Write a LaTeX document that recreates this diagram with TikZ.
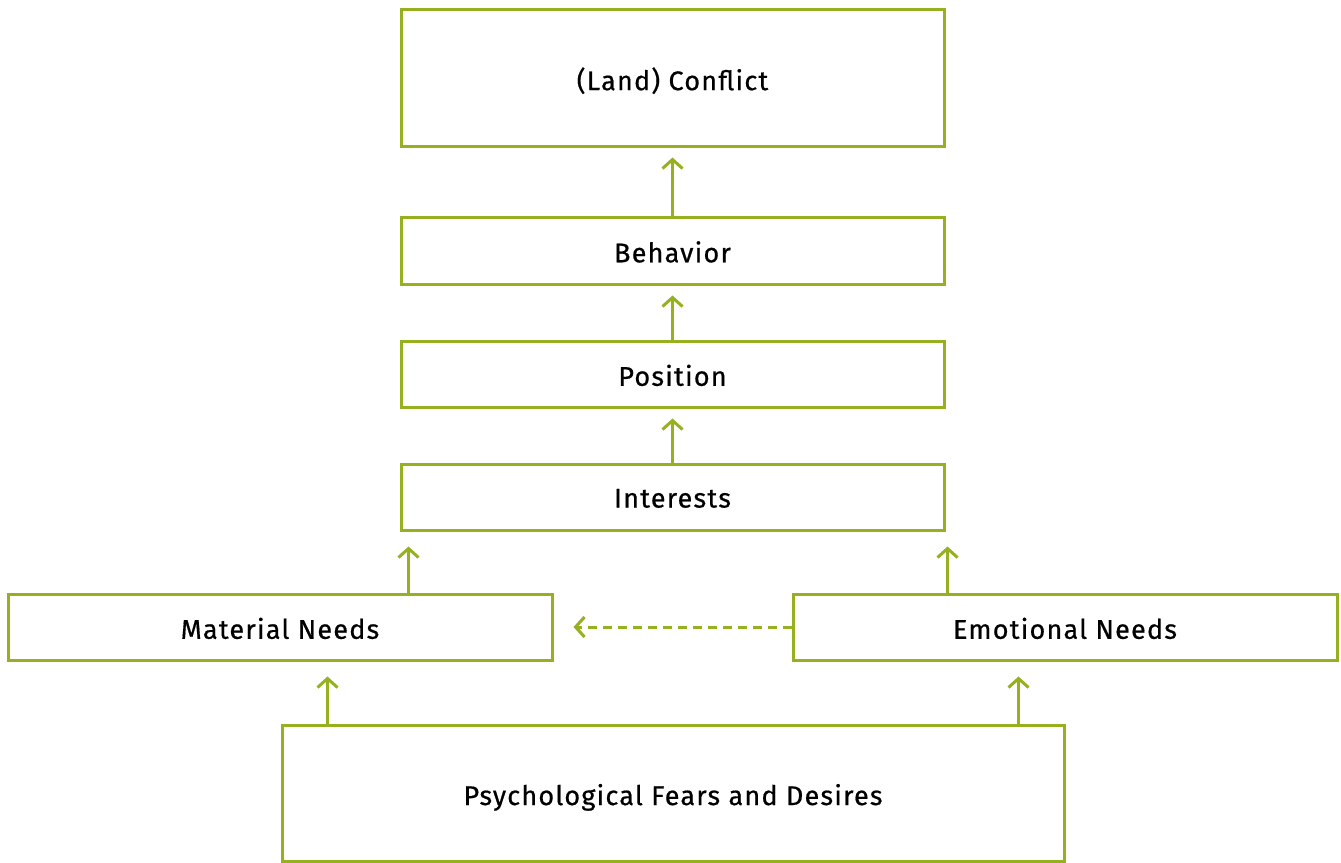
\documentclass[tikz,border=0pt]{standalone}
\usepackage{fontspec}
\setmainfont{Fira Sans}[LetterSpace=4.5, FakeBold=0.6]
\usetikzlibrary{arrows.meta}
\definecolor{leaf}{RGB}{149,177,31}
% labels sit a little below the geometric centre of their boxes
\newcommand{\boxlabel}[1]{\lower2.5pt\hbox{#1}}
\tikzset{
  box/.style={draw=leaf, line width=3pt, rectangle, inner sep=0pt,
    font=\fontsize{27}{30}\selectfont, text=black, text depth=0pt},
  arr/.style={draw=leaf, line width=3pt,
    -{Straight Barb[length=9pt,width=20pt,line width=3pt]}},
}
\begin{document}
\begin{tikzpicture}[x=1pt,y=-1pt]
  \useasboundingbox (0,0) rectangle (1341,862);
  \node[box, minimum width=543, minimum height=137] (conflict) at (672.5,77.5) {\boxlabel{(Land) Conflict}};
  \node[box, minimum width=543, minimum height=67] (behavior) at (672.5,250.5) {\boxlabel{Behavior}};
  \node[box, minimum width=543, minimum height=66] (position) at (672.5,374) {\boxlabel{Position}};
  \node[box, minimum width=543, minimum height=66] (interests) at (672.5,497) {\boxlabel{Interests}};
  \node[box, minimum width=544, minimum height=66] (material) at (280,627) {\boxlabel{Material Needs}};
  \node[box, minimum width=544, minimum height=66] (emotional) at (1065,627) {\boxlabel{Emotional Needs}};
  \node[box, minimum width=782, minimum height=136.5] (psych) at (673,793.25) {\boxlabel{Psychological Fears and Desires}};

  \draw[arr, shorten >=10pt] (behavior.north) -- (conflict.south);
  \draw[arr, shorten >=10pt] (position.north) -- (behavior.south);
  \draw[arr, shorten >=10pt] (interests.north) -- (position.south);
  \draw[arr, shorten >=15pt] ([xshift=9]interests.south west |- material.north) -- ([xshift=9]interests.south west);
  \draw[arr, shorten >=15pt] ([xshift=2]interests.south east |- emotional.north) -- ([xshift=2]interests.south east);
  \draw[arr, shorten >=15pt] ([xshift=47]psych.north west) -- ([xshift=47]psych.north west |- material.south);
  \draw[arr, shorten >=15pt] ([xshift=-47]psych.north east) -- ([xshift=-47]psych.north east |- emotional.south);
  \draw[arr, dash pattern=on 9pt off 6pt, shorten >=20pt] (emotional.west) -- (material.east);
\end{tikzpicture}
\end{document}
